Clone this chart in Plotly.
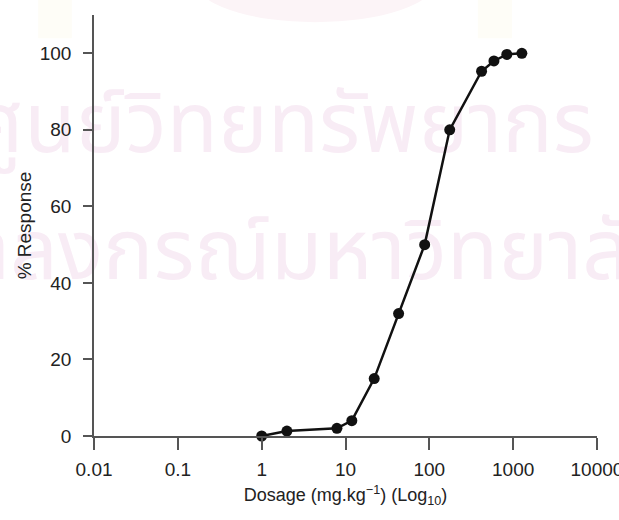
import plotly.graph_objects as go

# Data
dosage = [1, 2, 7.9, 11.9, 22, 43, 88, 175, 420, 590, 840, 1270]
response = [0, 1.3, 2, 4, 15, 32, 50, 80, 95.3, 98, 99.7, 100]

x_tickvals = [0.01, 0.1, 1, 10, 100, 1000, 10000]
x_ticktext = ["0.01", "0.1", "1", "10", "100", "1000", "10000"]
y_tickvals = [0, 20, 40, 60, 80, 100]

watermark_lines = ["ศูนย์วิทยทรัพยากร", "จุฬาลงกรณ์มหาวิทยาลัย"]

x_range_log = [-2.0003, 4.0003]
y_range = [0, 110]


def paper_to_data(fx, fy):
    lx = x_range_log[0] + fx * (x_range_log[1] - x_range_log[0])
    return 10 ** lx, y_range[0] + fy * (y_range[1] - y_range[0])


fig = go.Figure()

# faint background watermark (scanned-page artefact), drawn under the data
wm_anchor = [paper_to_data(0.375, 0.724), paper_to_data(0.365, 0.423)]
fig.add_trace(go.Scatter(
    x=[a[0] for a in wm_anchor], y=[a[1] for a in wm_anchor],
    mode="text", text=watermark_lines, textposition="middle center",
    textfont=dict(family="Noto Sans Thai, Loma, Garuda, Noto Sans, sans-serif", size=84,
                  color="rgb(248,236,245)"),
    hoverinfo="skip", showlegend=False, cliponaxis=False,
))

fig.add_trace(go.Scatter(
    x=dosage, y=response, mode="lines+markers",
    line=dict(color="#111111", width=2.5),
    marker=dict(color="#111111", size=11),
    showlegend=False, cliponaxis=False,
))

fig.add_shape(type="circle", xref="paper", yref="paper", layer="below",
              x0=0.20, x1=0.68, y0=0.983, y1=1.18,
              fillcolor="rgb(252,244,247)", line=dict(width=0))
for x0, x1 in [(-0.111, -0.044), (0.763, 0.831)]:
    fig.add_shape(type="rect", xref="paper", yref="paper", layer="below",
                  x0=x0, x1=x1, y0=0.945, y1=1.04,
                  fillcolor="rgb(254,253,247)", line=dict(width=0))

tick_font = dict(family="Liberation Sans, Arial, sans-serif", size=19, color="#222222")

fig.update_layout(
    width=619, height=520,
    margin=dict(l=94, r=22, t=15, b=84),
    paper_bgcolor="white", plot_bgcolor="white",
    xaxis=dict(
        type="log", range=x_range_log, automargin=False,
        tickvals=x_tickvals, ticktext=x_ticktext,
        ticks="outside", ticklen=12, tickwidth=1.5, tickcolor="#555555",
        showline=True, linecolor="#555555", linewidth=1.5,
        showgrid=False, zeroline=False,
        tickfont=tick_font, ticklabelstandoff=3, ticklabeloverflow="allow",
        title=dict(text="Dosage (mg.kg<sup>−1</sup>) (Log<sub>10</sub>)",
                   font=dict(family="Liberation Sans, Arial, sans-serif", size=18, color="#222222"),
                   standoff=10),
    ),
    yaxis=dict(
        range=y_range, automargin=False,
        tickvals=y_tickvals,
        ticks="outside", ticklen=9, tickwidth=1.5, tickcolor="#555555",
        showline=True, linecolor="#555555", linewidth=1.5,
        showgrid=False, zeroline=False,
        tickfont=tick_font, ticklabelstandoff=8,
        title=dict(text="% Response",
                   font=dict(family="Liberation Sans, Arial, sans-serif", size=19, color="#222222"),
                   standoff=3),
    ),
)

fig.write_html("out.html")
